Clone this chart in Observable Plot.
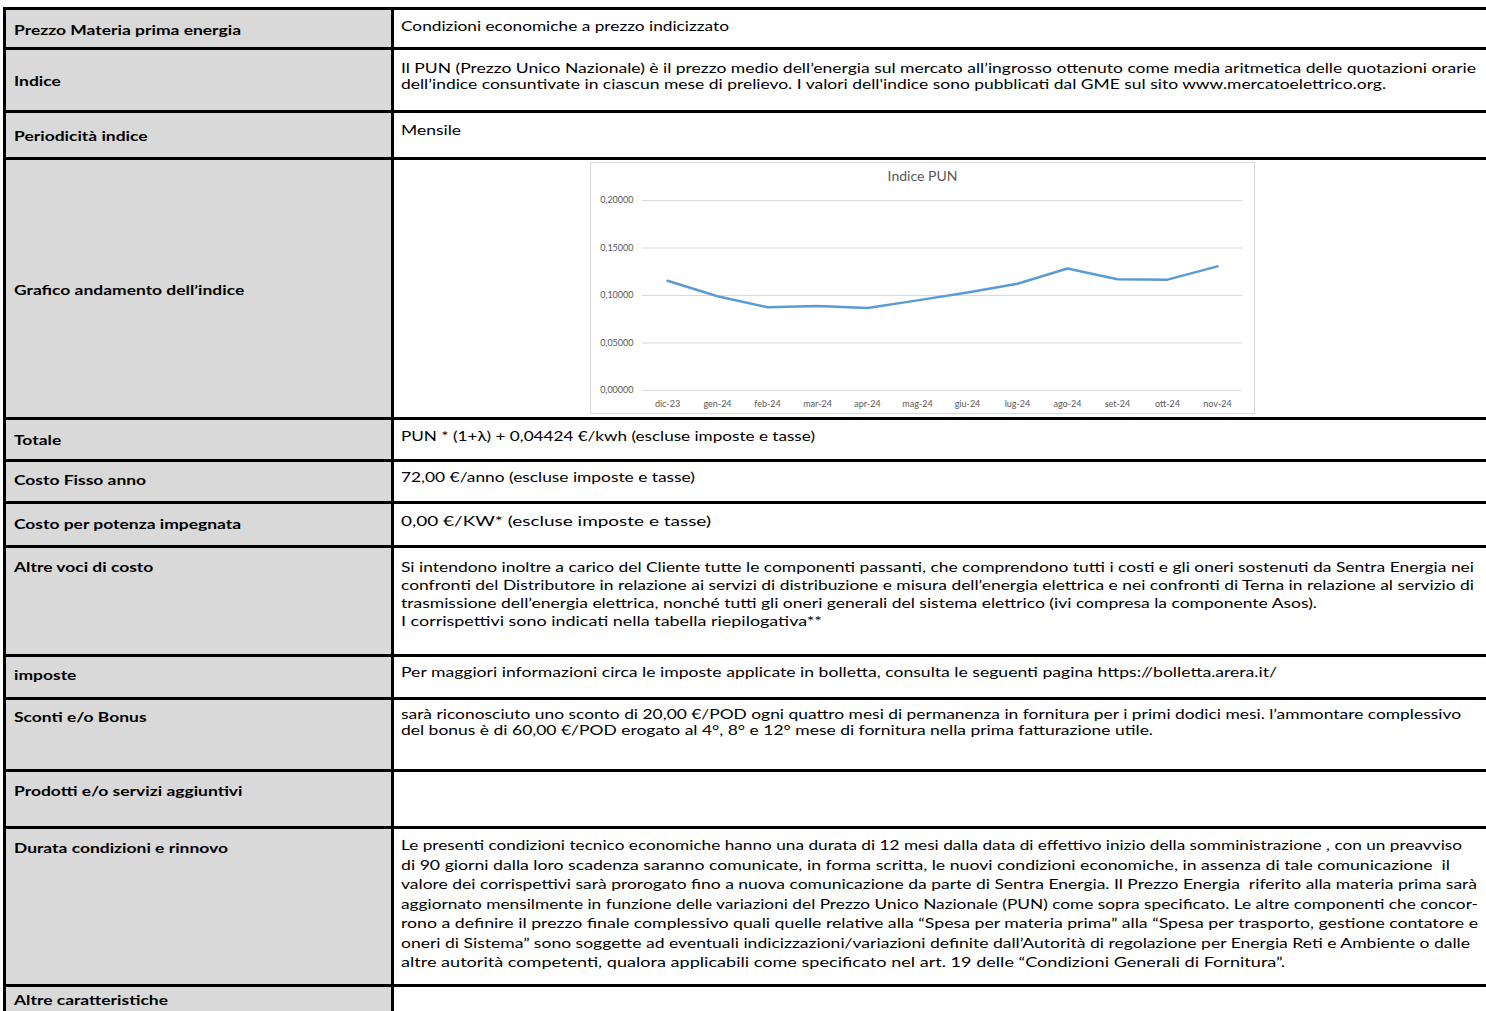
<!DOCTYPE html>
<html lang="it">
<head>
<meta charset="utf-8">
<script src="https://cdn.jsdelivr.net/npm/d3@7"></script>
<script src="https://cdn.jsdelivr.net/npm/@observablehq/plot@0.6"></script>
<style>
  html, body { margin: 0; padding: 0; background: #fff; }
  body { width: 1486px; height: 1011px; overflow: hidden; position: relative; font-family: Lato, "Liberation Sans", sans-serif; color: #000; }
  .hline { position: absolute; left: 3px; right: 0; height: 3px; background: #000; }
  .vline { position: absolute; top: 7px; width: 3px; background: #000; }
  .gray { position: absolute; left: 4px; width: 388px; background: #d9d9d9; }
  .txt { position: absolute; white-space: nowrap; font-size: 14px; }
  .txt .ln { display: block; white-space: pre; }
  .txt .ln > span { display: inline-block; transform-origin: 0 50%; }
  .lbl { font-weight: bold; left: 14px; }
  .cnt { left: 401px; }
  #chartbox { position: absolute; left: 590px; top: 162px; width: 665px; height: 252px; outline: 1px solid #d9d9d9; outline-offset: -1px; }
  #charttitle { position: absolute; left: 0; top: 5px; width: 100%; text-align: center; font-size: 14px; color: #595959; }
  #chartbox svg { position: absolute; left: 0; top: 0; }
</style>
</head>
<body>
<script>
// ---- chart data ----
const months = ["dic-23","gen-24","feb-24","mar-24","apr-24","mag-24","giu-24","lug-24","ago-24","set-24","ott-24","nov-24"];
const pun = [0.11558, 0.09922, 0.08758, 0.08883, 0.08689, 0.09487, 0.10324, 0.11232, 0.12845, 0.11709, 0.11669, 0.13070];
const yTicks = [0, 0.05, 0.10, 0.15, 0.20];
const chartTitle = "Indice PUN";

// ---- table text ----
const labels = [
  "Prezzo Materia prima energia",
  "Indice",
  "Periodicità indice",
  "Grafico andamento dell’indice",
  "Totale",
  "Costo Fisso anno",
  "Costo per potenza impegnata",
  "Altre voci di costo",
  "imposte",
  "Sconti e/o Bonus",
  "Prodotti e/o servizi aggiuntivi",
  "Durata condizioni e rinnovo",
  "Altre caratteristiche"
];
const contents = [
  ["Condizioni economiche a prezzo indicizzato"],
  ["Il PUN (Prezzo Unico Nazionale) è il prezzo medio dell’energia sul mercato all’ingrosso ottenuto come media aritmetica delle quotazioni orarie",
   "dell’indice consuntivate in ciascun mese di prelievo. I valori dell'indice sono pubblicati dal GME sul sito www.mercatoelettrico.org."],
  ["Mensile"],
  [],
  ["PUN * (1+λ) + 0,04424 €/kwh (escluse imposte e tasse)"],
  ["72,00 €/anno (escluse imposte e tasse)"],
  ["0,00 €/KW* (escluse imposte e tasse)"],
  ["Si intendono inoltre a carico del Cliente tutte le componenti passanti, che comprendono tutti i costi e gli oneri sostenuti da Sentra Energia nei",
   "confronti del Distributore in relazione ai servizi di distribuzione e misura dell’energia elettrica e nei confronti di Terna in relazione al servizio di",
   "trasmissione dell’energia elettrica, nonché tutti gli oneri generali del sistema elettrico (ivi compresa la componente Asos).",
   "I corrispettivi sono indicati nella tabella riepilogativa**"],
  ["Per maggiori informazioni circa le imposte applicate in bolletta, consulta le seguenti pagina https://bolletta.arera.it/"],
  ["sarà riconosciuto uno sconto di 20,00 €/POD ogni quattro mesi di permanenza in fornitura per i primi dodici mesi. l’ammontare complessivo",
   "del bonus è di 60,00 €/POD erogato al 4°, 8° e 12° mese di fornitura nella prima fatturazione utile."],
  [],
  ["Le presenti condizioni tecnico economiche hanno una durata di 12 mesi dalla data di effettivo inizio della somministrazione , con un preavviso",
   "di 90 giorni dalla loro scadenza saranno comunicate, in forma scritta, le nuovi condizioni economiche, in assenza di tale comunicazione  il",
   "valore dei corrispettivi sarà prorogato fino a nuova comunicazione da parte di Sentra Energia. Il Prezzo Energia  riferito alla materia prima sarà",
   "aggiornato mensilmente in funzione delle variazioni del Prezzo Unico Nazionale (PUN) come sopra specificato. Le altre componenti che concor-",
   "rono a definire il prezzo finale complessivo quali quelle relative alla “Spesa per materia prima” alla “Spesa per trasporto, gestione contatore e",
   "oneri di Sistema” sono soggette ad eventuali indicizzazioni/variazioni definite dall’Autorità di regolazione per Energia Reti e Ambiente o dalle",
   "altre autorità competenti, qualora applicabili come specificato nel art. 19 delle “Condizioni Generali di Fornitura”."],
  []
];

const contentEnds = [
  [729], [1476, 1386], [461], [], [815], [695], [711],
  [1474, 1474, 1317, 822], [1277], [1461, 1153], [],
  [1462, 1450, 1477, 1478, 1478, 1470, 1285], []
];
const labelEnds = [241, 60, 147, 247, 62, 143, 241, 152, 76, 147, 241, 227, 168];
const rowEdges = [8, 48, 111, 158, 418, 460, 502, 546, 655, 698, 770, 827, 985, 1040];
const labelCenters = [30, 81, 136, 290, 440, 480, 524, 567, 675, 717, 791, 848, 1000];
const contentCenters = [26, 68, 130, 0, 436, 477, 521, 567, 672, 714, 0, 845, 0];
const lineHeights = [16, 16, 16, 16, 16, 16, 16, 18, 16, 16, 16, 19.5, 16];

const body = document.body;
function el(cls, style, parent) {
  const d = document.createElement("div");
  d.className = cls;
  Object.assign(d.style, style);
  (parent || body).appendChild(d);
  return d;
}
el("gray", {top: rowEdges[0] + "px", height: (1011 - rowEdges[0]) + "px"});
rowEdges.slice(0, -1).forEach(y => el("hline", {top: (y - 1.5) + "px"}));
el("vline", {left: "3px", height: "1010px"});
el("vline", {left: "391px", height: "1010px"});

function addText(cls, lines, centerY, lh) {
  const d = el("txt " + cls, {top: (centerY - lh / 2) + "px", lineHeight: lh + "px"});
  return lines.map(t => {
    const ln = document.createElement("span");
    ln.className = "ln";
    const s = document.createElement("span");
    s.textContent = t;
    ln.appendChild(s);
    d.appendChild(ln);
    return s;
  });
}
function fitSpan(s, left, end) {
  const w = s.getBoundingClientRect().width;
  s.style.transform = `scaleX(${(end - left) / w})`;
}
// bold labels: one common scale, from the first label
const labelSpans = labels.map((t, i) => addText("lbl", [t], labelCenters[i], 16)[0]);
const kb = (241 - 14) / labelSpans[0].getBoundingClientRect().width;
labelSpans.forEach(s => s.style.transform = `scaleX(${kb})`);
// content lines: each line fitted to where it ends in the reference
contents.forEach((lines, i) => {
  if (!lines.length) return;
  const spans = addText("cnt", lines, contentCenters[i], lineHeights[i]);
  spans.forEach((s, j) => fitSpan(s, 401, contentEnds[i][j]));
});

// ---- chart ----
const box = el("", {}, body);
box.id = "chartbox";
const title = el("", {}, box);
title.id = "charttitle";
title.textContent = chartTitle;

const data = months.map((m, i) => ({month: m, value: pun[i]}));
const fmt = d => d3.format(".5f")(d).replace(".", ",");
const chart = Plot.plot({
  width: 665,
  height: 252,
  marginLeft: 52,
  marginRight: 13,
  marginTop: 38,
  marginBottom: 24,
  style: {fontFamily: "Lato, sans-serif", fontSize: "9px", color: "#595959", background: "transparent", overflow: "visible"},
  x: {type: "point", domain: months, padding: 0.5, label: null, tickSize: 0, tickPadding: 10},
  y: {domain: [0, 0.2], ticks: yTicks, tickFormat: fmt, label: null, tickSize: 0, tickPadding: 9},
  marks: [
    Plot.ruleY(yTicks, {stroke: "#d9d9d9", strokeWidth: 1}),
    Plot.line(data, {x: "month", y: "value", stroke: "#5b9bd5", strokeWidth: 2.5, strokeLinejoin: "round", strokeLinecap: "round"})
  ]
});
box.appendChild(chart);
</script>
</body>
</html>
